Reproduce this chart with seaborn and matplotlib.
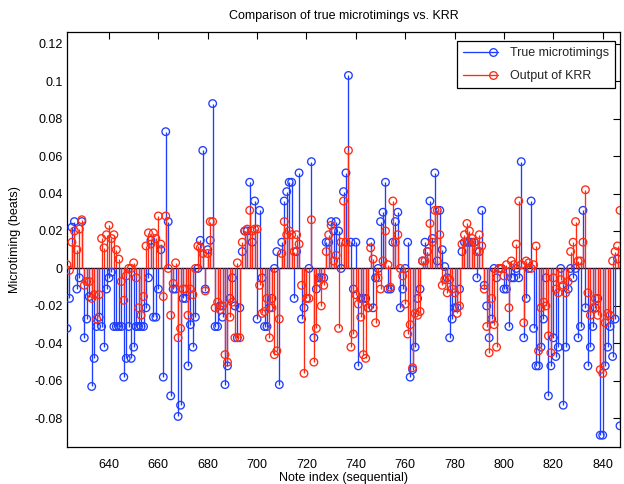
import numpy as np
import pandas as pd
import matplotlib
matplotlib.use("Agg")
import matplotlib.pyplot as plt
import seaborn as sns
from matplotlib.lines import Line2D
from matplotlib.legend_handler import HandlerBase

# ---------------- data ----------------
note_start = 623
true_micro = [
    -0.032, -0.016, 0.022, 0.025, -0.011, -0.005, 0.025, -0.037, -0.027, -0.015,
    -0.063, -0.048, -0.031, -0.026, -0.031, -0.042, -0.011, -0.005, -0.002, -0.031,
    -0.031, -0.031, -0.031, -0.058, -0.048, -0.031, -0.048, -0.042, -0.031, -0.031,
    -0.031, -0.031, -0.021, -0.005, 0.015, -0.026, -0.026, -0.011, 0.010, -0.058,
    0.073, 0.025, -0.068, -0.011, -0.011, -0.079, -0.073, -0.016, -0.016, -0.052,
    -0.030, -0.042, -0.026, 0.000, 0.015, 0.063, -0.011, 0.010, 0.015, 0.088,
    -0.031, -0.031, -0.020, -0.026, -0.062, -0.052, -0.016, -0.005, -0.020, -0.037,
    -0.021, 0.009, 0.020, 0.020, 0.046, 0.014, 0.036, -0.027, 0.031, -0.005,
    -0.031, -0.031, -0.021, -0.016, 0.000, 0.009, -0.062, 0.014, 0.036, 0.041,
    0.046, 0.046, -0.016, 0.009, 0.051, -0.027, -0.021, -0.016, 0.000, 0.057,
    -0.037, -0.011, -0.005, -0.005, -0.005, 0.014, 0.014, 0.025, 0.020, 0.025,
    0.020, 0.000, 0.041, 0.051, 0.103, 0.014, -0.011, 0.014, -0.052, -0.016,
    -0.016, -0.016, -0.021, 0.014, -0.021, -0.005, 0.000, 0.025, 0.030, 0.046,
    -0.011, -0.011, 0.014, 0.025, 0.030, -0.021, -0.011, 0.000, 0.014, -0.058,
    -0.054, -0.042, -0.016, -0.011, 0.004, 0.014, 0.009, 0.036, 0.016, 0.051,
    0.004, 0.031, 0.010, 0.001, -0.005, -0.037, -0.027, -0.021, -0.021, -0.011,
    0.009, 0.014, 0.014, 0.014, 0.014, 0.014, -0.005, 0.009, 0.031, -0.009,
    -0.020, -0.037, -0.027, 0.000, -0.005, 0.000, 0.000, -0.011, -0.011, -0.031,
    -0.005, -0.005, 0.000, -0.005, 0.057, -0.037, -0.016, 0.000, 0.036, -0.032,
    -0.052, -0.052, -0.042, -0.027, -0.005, -0.068, -0.052, -0.037, -0.047, -0.042,
    0.000, -0.073, -0.042, -0.011, 0.000, -0.005, 0.000, -0.037, -0.031, 0.031,
    -0.021, -0.052, -0.042, -0.031, -0.021, -0.016, -0.089, -0.089, -0.052, -0.042,
    -0.031, -0.047, -0.027, 0.005, -0.084,
]
krr_output = [
    0.002, -0.001, 0.014, 0.020, 0.010, 0.021, 0.026, -0.009, -0.007, -0.007,
    -0.016, -0.014, -0.027, -0.014, 0.016, 0.011, 0.018, 0.023, 0.016, 0.018,
    0.010, 0.005, -0.007, -0.017, -0.004, 0.000, 0.000, 0.003, -0.005, -0.021,
    -0.025, -0.015, 0.012, 0.019, 0.013, 0.019, 0.016, 0.028, 0.013, -0.015,
    0.028, 0.000, -0.025, -0.008, 0.003, -0.037, -0.032, -0.011, -0.011, -0.025,
    -0.011, -0.014, 0.000, 0.012, 0.011, 0.008, -0.012, 0.008, 0.025, 0.025,
    -0.021, -0.018, -0.022, -0.020, -0.046, -0.050, -0.026, -0.018, -0.037, 0.003,
    -0.037, 0.014, 0.020, 0.021, 0.031, 0.020, 0.021, 0.021, -0.009, -0.024,
    -0.023, -0.016, -0.037, -0.021, -0.046, -0.044, -0.027, 0.008, 0.025, 0.018,
    0.020, 0.018, 0.009, 0.018, 0.013, -0.009, -0.056, -0.016, -0.016, 0.026,
    -0.050, -0.032, -0.007, -0.020, -0.009, 0.009, 0.018, 0.023, 0.004, 0.007,
    -0.032, 0.014, 0.036, 0.014, 0.063, -0.042, -0.035, -0.014, -0.019, -0.026,
    -0.046, -0.048, -0.021, 0.011, 0.005, -0.029, -0.005, -0.011, 0.004, 0.020,
    0.002, -0.010, 0.036, 0.014, 0.018, 0.000, -0.004, -0.019, -0.035, -0.030,
    -0.053, -0.024, -0.025, -0.023, 0.004, 0.004, 0.009, 0.024, 0.014, 0.031,
    0.031, 0.018, -0.009, -0.006, -0.013, -0.006, -0.011, -0.013, -0.024, -0.020,
    0.013, 0.018, 0.024, 0.020, 0.016, 0.014, 0.009, 0.018, 0.012, -0.011,
    -0.031, -0.045, -0.016, -0.030, -0.042, 0.000, 0.000, -0.004, 0.002, -0.021,
    0.004, 0.002, 0.013, 0.036, 0.002, -0.029, 0.004, 0.003, 0.000, 0.002,
    0.012, -0.044, -0.021, -0.018, -0.020, -0.036, -0.045, -0.005, -0.011, -0.013,
    -0.006, -0.009, -0.013, -0.007, 0.009, 0.014, 0.025, 0.004, 0.004, 0.014,
    0.042, -0.013, -0.025, -0.021, -0.016, -0.025, -0.054, -0.056, -0.029, -0.024,
    -0.025, 0.004, 0.009, 0.012, 0.031,
]
note_index = list(range(note_start, note_start + len(true_micro)))
x_ticks = [640, 660, 680, 700, 720, 740, 760, 780, 800, 820, 840]
y_ticks = [-0.08, -0.06, -0.04, -0.02, 0, 0.02, 0.04, 0.06, 0.08, 0.1, 0.12]
y_tick_labels = ["-0.08", "-0.06", "-0.04", "-0.02", "0", "0.02", "0.04",
                 "0.06", "0.08", "0.1", "0.12"]
series_names = ["True microtimings", "Output of KRR"]

# ---------------- style ----------------
sns.set_theme(style="white")
plt.rcParams["font.family"] = ["Liberation Sans", "DejaVu Sans"]
FS = 9.0
BLUE = "#1f3dff"
RED = "#ff2a12"

df = pd.DataFrame({
    "note": note_index * 2,
    "value": true_micro + krr_output,
    "series": [series_names[0]] * len(true_micro) + [series_names[1]] * len(krr_output),
})

fig = plt.figure(figsize=(6.24, 4.84), dpi=100, facecolor="white")
ax = fig.add_axes([67 / 624, 1 - 447 / 484, (620 - 67) / 624, (447 - 32) / 484])
ax.set_facecolor("white")

ax.axhline(0, color="black", lw=1.0, zorder=1.5)

colors = {series_names[0]: BLUE, series_names[1]: RED}
for k, name in enumerate(series_names):
    sub = df[df["series"] == name]
    ax.vlines(sub["note"], 0, sub["value"], color=colors[name], lw=0.95, zorder=2 + 2 * k)
    sns.scatterplot(data=sub, x="note", y="value", ax=ax, marker="o",
                    facecolor="none", edgecolor=colors[name], linewidth=0.95,
                    s=30, zorder=3 + 2 * k, legend=False)

ax.set_xlim(623, 847)
ax.set_ylim(-0.0953, 0.1262)
ax.set_xticks(x_ticks)
ax.set_xticklabels([str(t) for t in x_ticks], fontsize=FS)
ax.set_yticks(y_ticks)
ax.set_yticklabels(y_tick_labels, fontsize=FS)
ax.tick_params(axis="both", direction="in", length=5, width=0.8, color="black",
               top=True, right=True, labelcolor="black")
ax.tick_params(axis="x", pad=9)
ax.tick_params(axis="y", pad=3)
for sp in ax.spines.values():
    sp.set_visible(True)
    sp.set_color("black")
    sp.set_linewidth(0.9)

ax.set_title("Comparison of true microtimings vs. KRR", fontsize=FS, color="black", pad=9)
ax.set_xlabel("Note index (sequential)", fontsize=FS, color="black", labelpad=0)
ax.set_ylabel("Microtiming (beats)", fontsize=FS, color="black", labelpad=10)


class StemHandler(HandlerBase):
    def create_artists(self, legend, orig_handle, xdescent, ydescent, width,
                       height, fontsize, trans):
        c = orig_handle.get_color()
        y = height / 2 - ydescent
        ln = Line2D([-xdescent, -xdescent + width], [y, y], color=c, lw=0.95)
        mk = Line2D([-xdescent + width * 0.86], [y], color=c, marker="o",
                    mfc="none", mec=c, ms=5.5, mew=0.95, linestyle="none")
        ln.set_transform(trans)
        mk.set_transform(trans)
        return [ln, mk]


handles = [Line2D([0], [0], color=BLUE), Line2D([0], [0], color=RED)]
leg = ax.legend(handles, series_names, loc="upper right",
                bbox_to_anchor=(615 / 624, 1 - 41 / 484), bbox_transform=fig.transFigure,
                borderaxespad=0, fontsize=FS, frameon=True, fancybox=False,
                framealpha=1, edgecolor="black", handlelength=2.8,
                handletextpad=0.9, labelspacing=0.85, borderpad=0.5,
                handler_map={Line2D: StemHandler()})
leg.get_frame().set_linewidth(0.9)

fig.savefig("out.png", dpi=100, facecolor="white")
